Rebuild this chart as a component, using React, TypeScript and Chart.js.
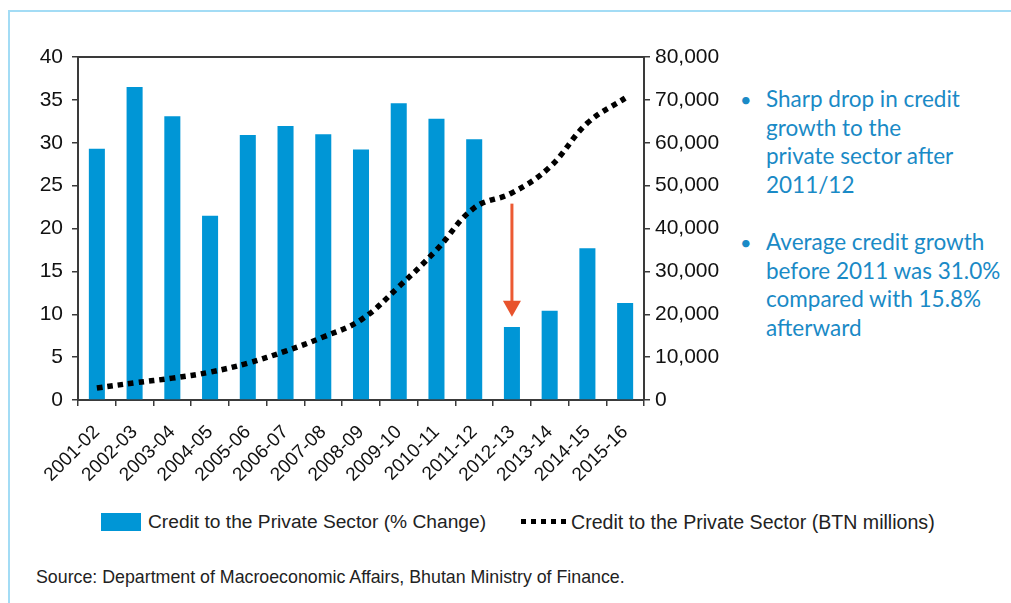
import React, { useEffect, useRef } from "react";
import { Chart, registerables } from "chart.js";

Chart.register(...registerables);

const categories = [
  "2001-02", "2002-03", "2003-04", "2004-05", "2005-06", "2006-07", "2007-08", "2008-09",
  "2009-10", "2010-11", "2011-12", "2012-13", "2013-14", "2014-15", "2015-16",
];
const creditGrowthPct = [29.3, 36.5, 33.1, 21.5, 30.9, 31.95, 31.0, 29.2, 34.6, 32.8, 30.4, 8.5, 10.4, 17.7, 11.3];
const creditBtnMillions = [2800, 4000, 5100, 6500, 8600, 11400, 14700, 18700, 26400, 35000, 44800, 48300, 54300, 64600, 70400];
const leftTicks = [0, 5, 10, 15, 20, 25, 30, 35, 40];
const rightTicks = [0, 10000, 20000, 30000, 40000, 50000, 60000, 70000, 80000];
const arrowCategory = "2012-13";
const arrowFrom = 22.9;
const arrowTo = 9.7;

const barLabel = "Credit to the Private Sector (% Change)";
const lineLabel = "Credit to the Private Sector (BTN millions)";
const bullets = [
  ["Sharp drop in credit", "growth to the", "private sector after", "2011/12"],
  ["Average credit growth", "before 2011 was 31.0%", "compared with 15.8%", "afterward"],
];
const sourceText = "Source: Department of Macroeconomic Affairs, Bhutan Ministry of Finance.";

const BLUE = "#0096d6";
const AXIS = "#3a3a3a";
const FONT = "'Liberation Sans', Arial, sans-serif";

const frameTopPlugin = {
  id: "frameTop",
  afterDraw(chart: any) {
    const { ctx, chartArea } = chart;
    ctx.save();
    ctx.strokeStyle = AXIS;
    ctx.lineWidth = 2;
    ctx.beginPath();
    ctx.moveTo(chartArea.left - 1, chartArea.top);
    ctx.lineTo(chartArea.right + 1, chartArea.top);
    ctx.stroke();
    ctx.restore();
  },
};

const arrowPlugin = {
  id: "dropArrow",
  afterDatasetsDraw(chart: any) {
    const { ctx } = chart;
    const xs = chart.scales.x;
    const ys = chart.scales.y;
    const x = xs.getPixelForValue(categories.indexOf(arrowCategory));
    const y0 = ys.getPixelForValue(arrowFrom);
    const y1 = ys.getPixelForValue(arrowTo);
    const headH = 16;
    const headW = 9;
    ctx.save();
    ctx.strokeStyle = "#ec5a33";
    ctx.fillStyle = "#e8532c";
    ctx.lineWidth = 3;
    ctx.beginPath();
    ctx.moveTo(x, y0);
    ctx.lineTo(x, y1 - headH + 2);
    ctx.stroke();
    ctx.beginPath();
    ctx.moveTo(x - headW, y1 - headH);
    ctx.lineTo(x + headW, y1 - headH);
    ctx.lineTo(x, y1);
    ctx.closePath();
    ctx.fill();
    ctx.restore();
  },
};

function ChartCanvas() {
  const ref = useRef<HTMLCanvasElement | null>(null);
  useEffect(() => {
    if (!ref.current) return;
    const chart = new Chart(ref.current, {
      data: {
        labels: categories,
        datasets: [
          {
            type: "line",
            label: lineLabel,
            data: creditBtnMillions,
            yAxisID: "y1",
            borderColor: "#000",
            borderWidth: 5.5,
            borderDash: [5.5, 5],
            borderCapStyle: "butt",
            tension: 0.4,
            pointRadius: 0,
            fill: false,
            order: 0,
          },
          {
            type: "bar",
            label: barLabel,
            data: creditGrowthPct,
            yAxisID: "y",
            backgroundColor: BLUE,
            barPercentage: 0.85,
            categoryPercentage: 0.5,
            order: 1,
          },
        ],
      } as any,
      options: {
        responsive: false,
        animation: false,
        devicePixelRatio: 1,
        layout: { padding: { top: 27, left: 0, right: 0, bottom: 0 } },
        plugins: { legend: { display: false }, tooltip: { enabled: false } },
        scales: {
          x: {
            type: "category",
            offset: true,
            grid: { offset: true, drawOnChartArea: false, drawTicks: true, tickLength: 6, color: AXIS, lineWidth: 1.5 },
            border: { color: AXIS, width: 2 },
            ticks: {
              minRotation: 45,
              maxRotation: 45,
              autoSkip: false,
              padding: 15,
              color: "#111",
              font: { family: FONT, size: 19 },
            },
            afterFit: (s: any) => { s.height = 100; },
          },
          y: {
            position: "left",
            min: 0,
            max: 40,
            afterBuildTicks: (s: any) => { s.ticks = leftTicks.map((v) => ({ value: v })); },
            grid: { drawOnChartArea: false, drawTicks: true, tickLength: 6, color: AXIS, lineWidth: 1.5 },
            border: { color: AXIS, width: 2 },
            ticks: { padding: 9, color: "#111", font: { family: FONT, size: 21 } },
            afterFit: (s: any) => { s.width = 78; },
          },
          y1: {
            position: "right",
            min: 0,
            max: 80000,
            afterBuildTicks: (s: any) => { s.ticks = rightTicks.map((v) => ({ value: v })); },
            grid: { drawOnChartArea: false, drawTicks: true, tickLength: 6, color: AXIS, lineWidth: 1.5 },
            border: { color: AXIS, width: 2 },
            ticks: {
              padding: 5,
              color: "#111",
              font: { family: FONT, size: 21 },
              callback: (v: any) => Number(v).toLocaleString("en-US"),
            },
            afterFit: (s: any) => { s.width = 76; },
          },
        },
      } as any,
      plugins: [frameTopPlugin, arrowPlugin],
    });
    return () => chart.destroy();
  }, []);
  return (
    <canvas
      ref={ref}
      width={720}
      height={470}
      style={{ position: "absolute", left: 0, top: 30, width: 720, height: 470 }}
    />
  );
}

export default function App() {
  return (
    <div style={{ position: "fixed", left: 0, top: 0, width: 1011, height: 603, background: "#fff", overflow: "hidden" }}>
      <div
        style={{
          position: "absolute",
          left: 8,
          top: 10,
          width: 1100,
          height: 700,
          borderTop: "2px solid #a3dcf5",
          borderLeft: "2px solid #a3dcf5",
        }}
      />
      <ChartCanvas />
      {bullets.map((lines, i) => (
        <div
          key={i}
          style={{
            position: "absolute",
            left: 740,
            top: i === 0 ? 85 : 228,
            fontFamily: "Lato, sans-serif",
            fontSize: 22.5,
            lineHeight: "28.5px",
            color: "#1a8ac6",
            whiteSpace: "nowrap",
          }}
        >
          <span style={{ position: "absolute", left: 0, top: 0, fontSize: 20 }}>•</span>
          <div style={{ marginLeft: 26 }}>
            {lines.map((l, j) => (
              <div key={j}>{l}</div>
            ))}
          </div>
        </div>
      ))}
      <div style={{ position: "absolute", left: 101, top: 513, width: 40, height: 18, background: BLUE }} />
      <div
        style={{
          position: "absolute",
          left: 148,
          top: 509,
          fontFamily: FONT,
          fontSize: 19.2,
          lineHeight: "26px",
          color: "#222",
          whiteSpace: "nowrap",
        }}
      >
        {barLabel}
      </div>
      <div
        style={{
          position: "absolute",
          left: 521,
          top: 519,
          width: 45,
          height: 5,
          background: "repeating-linear-gradient(to right, #000 0 5px, transparent 5px 10px)",
        }}
      />
      <div
        style={{
          position: "absolute",
          left: 571,
          top: 509,
          fontFamily: FONT,
          fontSize: 19.6,
          lineHeight: "26px",
          color: "#222",
          whiteSpace: "nowrap",
        }}
      >
        {lineLabel}
      </div>
      <div
        style={{
          position: "absolute",
          left: 36,
          top: 566,
          fontFamily: FONT,
          fontSize: 17.8,
          lineHeight: "22px",
          color: "#222",
          whiteSpace: "nowrap",
        }}
      >
        {sourceText}
      </div>
    </div>
  );
}
